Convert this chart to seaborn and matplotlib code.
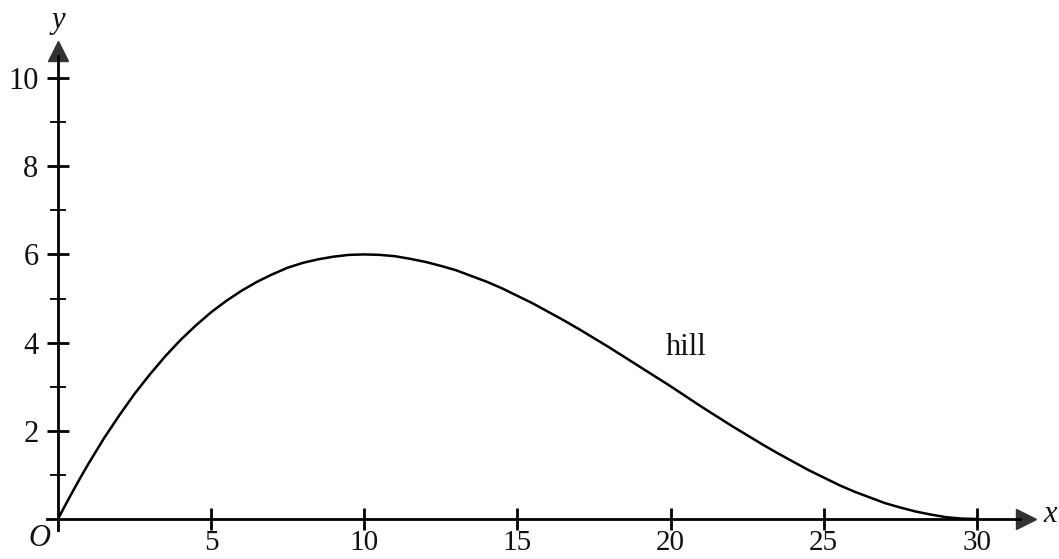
import matplotlib
matplotlib.use("Agg")
import matplotlib.pyplot as plt
import seaborn as sns
import pandas as pd

# data
x_vals = [0, 0.25, 0.5, 0.75, 1, 1.5, 2, 2.5, 3, 3.5, 4, 4.5, 5, 5.5, 6, 6.5,
          7, 7.5, 8, 8.5, 9, 9.5, 10, 10.5, 11, 11.5, 12, 12.5, 13, 13.5, 14,
          14.5, 15, 15.5, 16, 16.5, 17, 17.5, 18, 18.5, 19, 19.5, 20, 20.5,
          21, 21.5, 22, 22.5, 23, 23.5, 24, 24.5, 25, 25.5, 26, 26.5, 27,
          27.5, 28, 28.5, 29, 29.5, 30]
y_vals = [0, 0.33, 0.65, 0.96, 1.26, 1.83, 2.35, 2.84, 3.28, 3.69, 4.06, 4.39,
          4.69, 4.95, 5.18, 5.38, 5.55, 5.70, 5.81, 5.89, 5.95, 5.99, 6.0,
          5.99, 5.96, 5.90, 5.83, 5.74, 5.64, 5.51, 5.38, 5.23, 5.06, 4.89,
          4.70, 4.51, 4.31, 4.10, 3.89, 3.67, 3.45, 3.23, 3.01, 2.78, 2.55,
          2.33, 2.11, 1.90, 1.69, 1.49, 1.30, 1.11, 0.94, 0.77, 0.62, 0.49,
          0.36, 0.26, 0.17, 0.10, 0.04, 0.01, 0.0]
x_ticks = [5, 10, 15, 20, 25, 30]
y_ticks = [2, 4, 6, 8, 10]
y_minor = [1, 3, 5, 7, 9]
curve_label = "hill"

sns.set_theme(style="white")
plt.rcParams['font.family'] = ['Liberation Serif', 'DejaVu Serif']

df = pd.DataFrame({"x": x_vals, "y": y_vals})

fig = plt.figure(figsize=(10.59, 5.59), dpi=100)
ax = fig.add_axes([0, 0, 1, 1])
sns.lineplot(data=df, x="x", y="y", ax=ax, color="black", linewidth=1.8)

ax.set_xlim(-1.894, 32.68)
ax.set_ylim(-0.907, 11.77)

for s in ["top", "right"]:
    ax.spines[s].set_visible(False)
ax.spines["left"].set_position(("data", 0))
ax.spines["bottom"].set_position(("data", 0))
ax.spines["left"].set_bounds(-0.25, 10.5)
ax.spines["bottom"].set_bounds(-0.37, 31.4)
for s in ["left", "bottom"]:
    ax.spines[s].set_linewidth(2.0)
    ax.spines[s].set_color("black")

ax.set_xticks(x_ticks)
ax.set_yticks(y_ticks)
ax.set_yticks(y_minor, minor=True)
ax.set_xticklabels([str(t) for t in x_ticks])
ax.set_yticklabels([str(t) for t in y_ticks])
ax.tick_params(axis="both", which="major", direction="inout", length=16,
               width=2.0, color="black", labelsize=22, labelcolor="#111111",
               left=True, bottom=True)
ax.tick_params(axis="x", which="major", pad=0, labelsize=21)
ax.tick_params(axis="y", which="major", pad=6)
ax.tick_params(axis="y", which="minor", direction="inout", length=11.5,
               width=1.3, color="black", left=True)
ax.set_xlabel("")
ax.set_ylabel("")

# arrow heads
ax.plot([31.6], [0], marker=">", markersize=15, color="#333333", clip_on=False)
ax.plot([0], [10.62], marker="^", markersize=15, color="#333333", clip_on=False)

ax.text(32.4, 0.1, "x", fontsize=22, style="italic", ha="center", va="center", color="#111111")
ax.text(0.0, 11.3, "y", fontsize=22, style="italic", ha="center", va="center", color="#111111")
ax.text(-0.6, -0.45, "O", fontsize=22, style="italic", ha="center", va="center", color="#111111")
ax.text(20.5, 3.9, curve_label, fontsize=22, ha="center", va="center", color="#111111")

fig.savefig("out.png", dpi=100)
